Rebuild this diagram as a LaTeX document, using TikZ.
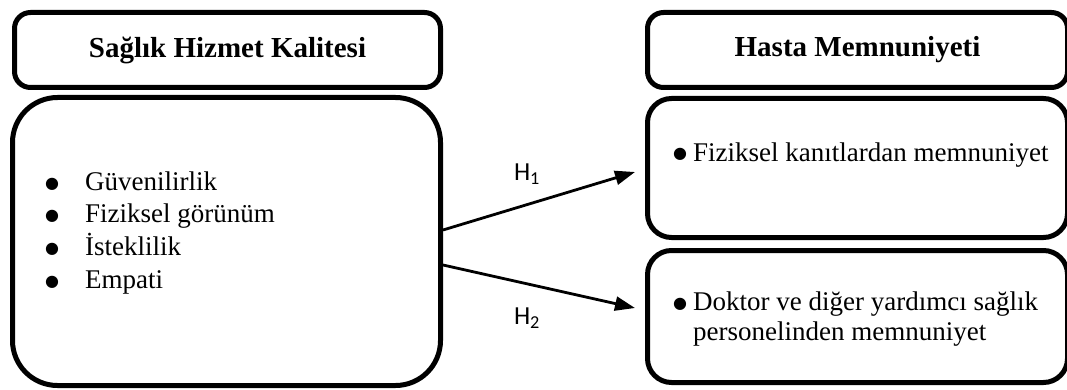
\documentclass[tikz,border=0pt]{standalone}
\usepackage{fontspec}
\setmainfont{Liberation Serif}
\newfontfamily\calib{Carlito}
\newfontfamily\symb{DejaVu Sans}
\usetikzlibrary{arrows.meta,calc}
\newcommand\bul{\raisebox{2pt}{\symb\fontsize{16}{17}\selectfont ●}}
\begin{document}
\begin{tikzpicture}[x=1pt,y=-1pt,
  box/.style={draw, line width=5pt, rounded corners=#1, inner sep=0pt},
  headtext/.style={font=\bfseries\fontsize{29}{33}\selectfont},
  bodytext/.style={font=\fontsize{27}{32.7}\selectfont, inner sep=0pt},
  hlab/.style={font=\calib\fontsize{26}{28}\selectfont, inner sep=0pt},
  arr/.style={line width=2.8pt, -{Triangle[length=20pt,width=14pt]}}]
\useasboundingbox (0,0) rectangle (1067,390);
% left side
\node[box=16pt, headtext, minimum width=426pt, minimum height=75pt] (lhead) at (227.5,50) {Sağlık Hizmet Kalitesi};
\node[box=45pt, minimum width=428pt, minimum height=288pt] (lbody) at (226.5,241.5) {};
\node[bodytext, anchor=base west] (llist) at (45,190) {%
  \begin{tabular}[t]{@{}l@{}}
  \makebox[40pt][l]{\bul}Güvenilirlik\\
  \makebox[40pt][l]{\bul}Fiziksel görünüm\\
  \makebox[40pt][l]{\bul}İsteklilik\\
  \makebox[40pt][l]{\bul}Empati
  \end{tabular}};
% right side
\node[box=16pt, headtext, minimum width=420pt, minimum height=75pt] (rhead) at (857.5,50) {Hasta Memnuniyeti};
\node[box=24pt, minimum width=420pt, minimum height=139pt] (rtop) at (857.5,168) {};
\node[box=24pt, minimum width=420pt, minimum height=132pt] (rbot) at (857.5,316.5) {};
\node[bodytext, anchor=base west] (rtoptext) at (673,161) {\makebox[20pt][l]{\bul}Fiziksel kanıtlardan memnuniyet};
\node[bodytext, font=\fontsize{27}{30}\selectfont, anchor=base west] (rbottext) at (673,310) {%
  \begin{tabular}[t]{@{}l@{}}
  \makebox[20pt][l]{\bul}Doktor ve diğer yardımcı sağlık\\
  \hspace*{20pt}personelinden memnuniyet
  \end{tabular}};
% arrows
\draw[arr] ($(lbody.east)+(0,-11.5)$) -- ($(rtop.west)+(-10,4)$);
\draw[arr] ($(lbody.east)+(0,23.5)$) -- ($(rbot.west)+(-10,-8.5)$);
\node[hlab] (h1) at (527,174) {H\textsubscript{1}};
\node[hlab] (h2) at (527,318) {H\textsubscript{2}};
\end{tikzpicture}
\end{document}
